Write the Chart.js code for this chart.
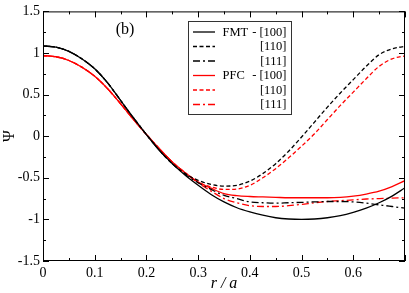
<!DOCTYPE html>
<html>
<head>
<meta charset="utf-8">
<script src="https://cdn.jsdelivr.net/npm/chart.js@4.4.1/dist/chart.umd.min.js"></script>
<style>
html,body{margin:0;padding:0;background:#fff;}
#wrap{width:409px;height:293px;}
</style>
</head>
<body>
<div id="wrap"><canvas id="c" width="409" height="293"></canvas></div>
<script>
const r = [0,0.025,0.05,0.075,0.1,0.125,0.15,0.175,0.2,0.225,0.25,0.275,0.3,0.325,0.35,0.375,0.4,0.425,0.45,0.475,0.5,0.525,0.55,0.575,0.6,0.625,0.65,0.675,0.7];
const fmt100 = [1.085,1.07,1.02,0.93,0.81,0.64,0.43,0.22,0.02,-0.17,-0.33,-0.47,-0.59,-0.70,-0.79,-0.86,-0.91,-0.95,-0.98,-0.995,-1.0,-0.995,-0.98,-0.955,-0.915,-0.865,-0.80,-0.72,-0.62];
const fmt110 = [1.085,1.07,1.02,0.93,0.81,0.64,0.43,0.22,0.02,-0.17,-0.33,-0.45,-0.53,-0.58,-0.60,-0.59,-0.54,-0.45,-0.33,-0.18,-0.01,0.17,0.35,0.52,0.68,0.84,0.98,1.05,1.08];
const fmt111 = [1.085,1.07,1.02,0.93,0.81,0.64,0.43,0.22,0.02,-0.17,-0.33,-0.46,-0.56,-0.64,-0.71,-0.75,-0.79,-0.80,-0.805,-0.80,-0.795,-0.79,-0.785,-0.785,-0.79,-0.805,-0.825,-0.845,-0.865];
const pfc100 = [0.97,0.955,0.91,0.83,0.72,0.57,0.39,0.20,0.02,-0.15,-0.31,-0.44,-0.55,-0.625,-0.69,-0.715,-0.725,-0.73,-0.735,-0.74,-0.74,-0.74,-0.74,-0.735,-0.72,-0.695,-0.66,-0.605,-0.535];
const pfc110 = [0.97,0.955,0.91,0.83,0.72,0.57,0.39,0.20,0.02,-0.15,-0.31,-0.44,-0.55,-0.61,-0.64,-0.635,-0.59,-0.50,-0.39,-0.26,-0.12,0.03,0.20,0.37,0.53,0.69,0.84,0.93,0.965];
const pfc111 = [0.97,0.955,0.91,0.83,0.72,0.57,0.39,0.20,0.02,-0.15,-0.31,-0.44,-0.56,-0.66,-0.75,-0.80,-0.835,-0.845,-0.845,-0.835,-0.82,-0.80,-0.785,-0.775,-0.765,-0.755,-0.75,-0.745,-0.74];
const xTickLabels = ['0','0.1','0.2','0.3','0.4','0.5','0.6',''];
const yTickLabels = ['-1.5','-1','-0.5','0','0.5','1','1.5'];
const seriesNames = ['FMT - [100]','[110]','[111]','PFC  - [100]','[110]','[111]'];

const BLACK = '#000000', RED = '#ff0000';
const DASH = [4,2.5], DASHDOT = [7,3,2,3];
const specs = [
  {d:fmt100,c:BLACK,dash:[]},
  {d:fmt110,c:BLACK,dash:DASH},
  {d:fmt111,c:BLACK,dash:DASHDOT},
  {d:pfc100,c:RED,dash:[]},
  {d:pfc110,c:RED,dash:DASH},
  {d:pfc111,c:RED,dash:DASHDOT}
];
const datasets = specs.map((s,i)=>({
  label: seriesNames[i],
  data: r.map((x,j)=>({x:x,y:s.d[j]})),
  borderColor: s.c,
  borderWidth: 1.3,
  borderDash: s.dash,
  pointRadius: 0,
  fill: false,
  cubicInterpolationMode: 'monotone'
}));

const SERIF = '"Liberation Serif","DejaVu Serif",serif';

const frameTicks = {
  id:'frameTicks',
  afterDatasetsDraw(chart){
    const {ctx, chartArea:a, scales:{x,y}} = chart;
    ctx.save();
    ctx.strokeStyle = '#000';
    ctx.lineWidth = 1;
    ctx.setLineDash([]);
    ctx.strokeRect(a.left+0.5, a.top+0.5, a.right-a.left-1, a.bottom-a.top-1);
    ctx.beginPath();
    const xt = x.ticks.map(t=>t.value);
    for (let i=0;i<xt.length;i++){
      const px = Math.round(x.getPixelForValue(xt[i]))+0.5;
      ctx.moveTo(px,a.bottom); ctx.lineTo(px,a.bottom-6);
      ctx.moveTo(px,a.top); ctx.lineTo(px,a.top+6);
      if (i<xt.length-1){
        const pm = Math.round(x.getPixelForValue((xt[i]+xt[i+1])/2))+0.5;
        ctx.moveTo(pm,a.bottom); ctx.lineTo(pm,a.bottom-3);
        ctx.moveTo(pm,a.top); ctx.lineTo(pm,a.top+3);
      }
    }
    const yt = y.ticks.map(t=>t.value);
    for (let i=0;i<yt.length;i++){
      const py = Math.round(y.getPixelForValue(yt[i]))+0.5;
      ctx.moveTo(a.left,py); ctx.lineTo(a.left+6,py);
      ctx.moveTo(a.right,py); ctx.lineTo(a.right-6,py);
      if (i<yt.length-1){
        const pm = Math.round(y.getPixelForValue((yt[i]+yt[i+1])/2))+0.5;
        ctx.moveTo(a.left,pm); ctx.lineTo(a.left+3,pm);
        ctx.moveTo(a.right,pm); ctx.lineTo(a.right-3,pm);
      }
    }
    ctx.stroke();

    // panel label
    ctx.fillStyle = '#000';
    ctx.font = '16px ' + SERIF;
    ctx.textAlign = 'center';
    ctx.textBaseline = 'middle';
    ctx.fillText('(b)', 125, 30);

    // legend
    const bx = 188.5, by = 21.5, bw = 103, bh = 93;
    ctx.fillStyle = '#fff';
    ctx.fillRect(bx,by,bw,bh);
    ctx.strokeStyle = '#333';
    ctx.lineWidth = 1;
    ctx.strokeRect(bx,by,bw,bh);
    ctx.font = '12.5px ' + SERIF;
    ctx.fillStyle = '#000';
    for (let i=0;i<specs.length;i++){
      const yy = 32 + i*14.5;
      ctx.beginPath();
      ctx.strokeStyle = specs[i].c;
      ctx.lineWidth = 1.3;
      ctx.setLineDash(specs[i].dash);
      ctx.moveTo(193, yy); ctx.lineTo(215, yy);
      ctx.stroke();
      ctx.setLineDash([]);
      const name = seriesNames[i];
      const m = name.match(/^(\S+)\s+(-\s\[\d+\])$/);
      ctx.textBaseline = 'middle';
      if (m){
        ctx.textAlign = 'left';
        ctx.fillText(m[1], 222.5, yy+0.5);
        ctx.textAlign = 'right';
        ctx.fillText(m[2], 286.5, yy+0.5);
      } else {
        ctx.textAlign = 'right';
        ctx.fillText(name, 286.5, yy+0.5);
      }
    }
    ctx.restore();
  }
};

new Chart(document.getElementById('c'), {
  type: 'line',
  data: { datasets: datasets },
  options: {
    responsive: false,
    animation: false,
    devicePixelRatio: 1,
    layout: { padding: { top: 6, right: 1, left: 0, bottom: 0 } },
    plugins: { legend: { display: false }, tooltip: { enabled: false } },
    scales: {
      x: {
        type: 'linear',
        min: 0, max: 0.7,
        afterFit(s){ s.height = 32; },
        grid: { display: false, drawTicks: false },
        border: { display: false },
        ticks: {
          stepSize: 0.1,
          padding: 4,
          color: '#000',
          maxRotation: 0,
          autoSkip: false,
          font: { family: SERIF, size: 14 },
          callback: (v,i)=> xTickLabels[i] !== undefined ? xTickLabels[i] : ''
        },
        title: {
          display: true,
          text: 'r / a',
          color: '#000',
          padding: { top: 0, bottom: 0 },
          font: { family: SERIF, size: 16, style: 'italic' }
        }
      },
      y: {
        type: 'linear',
        min: -1.5, max: 1.5,
        afterFit(s){ s.width = 43; },
        grid: { display: false, drawTicks: false },
        border: { display: false },
        ticks: {
          stepSize: 0.5,
          padding: 3,
          color: '#000',
          autoSkip: false,
          font: { family: SERIF, size: 14 },
          callback: (v,i)=> yTickLabels[i] !== undefined ? yTickLabels[i] : ''
        },
        title: {
          display: true,
          text: 'Ψ',
          color: '#000',
          padding: { top: 0, bottom: 0 },
          font: { family: SERIF, size: 16 }
        }
      }
    }
  },
  plugins: [frameTicks]
});
</script>
</body>
</html>
